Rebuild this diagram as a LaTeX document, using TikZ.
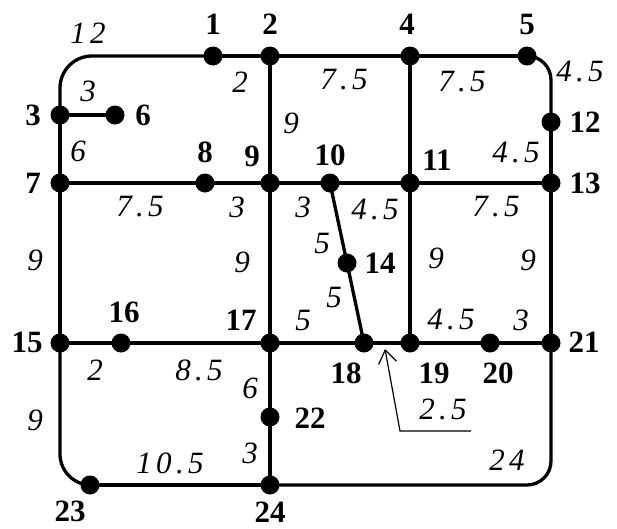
\documentclass[tikz,border=0pt]{standalone}
\usepackage{fontspec}
\setmainfont{Liberation Serif}
\newfontfamily\wfont{Liberation Serif}[LetterSpace=14]
\usetikzlibrary{arrows.meta,backgrounds}
\begin{document}
\begin{tikzpicture}[x=1pt,y=-1pt,
  dot/.style={circle,fill=black,inner sep=0pt,minimum size=19pt},
  lab/.style={font=\fontsize{31}{31}\selectfont\bfseries,inner sep=0pt},
  wt/.style={font=\fontsize{31}{31}\selectfont\wfont\itshape,inner sep=0pt},
  road/.style={line width=3.3pt},
  thin/.style={line width=1.2pt}]
\useasboundingbox (0,0) rectangle (617,528);
% vertices
\node[dot] (n1) at (213,56) {};
\node[dot] (n2) at (270,56) {};
\node[dot] (n4) at (410,56) {};
\node[dot] (n5) at (527,56) {};
\node[dot] (n12) at (551,122) {};
\node[dot] (n3) at (60,115) {};
\node[dot] (n6) at (115,115) {};
\node[dot] (n7) at (60,183) {};
\node[dot] (n8) at (205,183) {};
\node[dot] (n9) at (270,183) {};
\node[dot] (n10) at (330,183) {};
\node[dot] (n11) at (410,183) {};
\node[dot] (n13) at (551,183) {};
\node[dot] (n14) at (347,263) {};
\node[dot] (n15) at (60,343) {};
\node[dot] (n16) at (121,343) {};
\node[dot] (n17) at (270,343) {};
\node[dot] (n18) at (364,343) {};
\node[dot] (n19) at (410,343) {};
\node[dot] (n20) at (490,343) {};
\node[dot] (n21) at (551,343) {};
\node[dot] (n22) at (270,417) {};
\node[dot] (n23) at (90,485) {};
\node[dot] (n24) at (270,485) {};
\coordinate (a0) at (471,431);
\coordinate (a1) at (400,431);
\coordinate (a2) at (385,349);
% roads
\begin{scope}[on background layer]
\draw[road,rounded corners=32pt] (n3.center) |- (n1.center);
\draw[road] (n1.center) -- (n2.center) -- (n4.center) -- (n5.center);
\draw[road,rounded corners=24pt] (n5.center) -| (n12.center);
\draw[road] (n12.center) -- (n13.center) -- (n21.center);
\draw[road] (n3.center) -- (n6.center);
\draw[road] (n3.center) -- (n7.center) -- (n15.center);
\draw[road,rounded corners=31pt] (n15.center) |- (n23.center);
\draw[road] (n23.center) -- (n24.center);
\draw[road,rounded corners=24pt] (n24.center) -| (n21.center);
\draw[road] (n7.center) -- (n8.center) -- (n9.center) -- (n10.center) -- (n11.center) -- (n13.center);
\draw[road] (n15.center) -- (n16.center) -- (n17.center) -- (n18.center) -- (n19.center) -- (n20.center) -- (n21.center);
\draw[road] (n2.center) -- (n9.center) -- (n17.center) -- (n22.center) -- (n24.center);
\draw[road] (n4.center) -- (n11.center) -- (n19.center);
\draw[road] (n10.center) -- (n14.center) -- (n18.center);
\end{scope}
\draw[thin,-{Straight Barb[length=13pt,width=18pt]}] (a0) -- (a1) -- (a2);
% vertex labels
\node[lab] (l1) at (213,24) {1};
\node[lab] (l2) at (270,24) {2};
\node[lab] (l4) at (407,24) {4};
\node[lab] (l5) at (527,24) {5};
\node[lab] (l3) at (33,115) {3};
\node[lab] (l6) at (143,115) {6};
\node[lab] (l12) at (585,122) {12};
\node[lab] (l7) at (33,183) {7};
\node[lab] (l8) at (205,152) {8};
\node[lab] (l9) at (252,156) {9};
\node[lab] (l10) at (330,155) {10};
\node[lab] (l11) at (437,160) {11};
\node[lab] (l13) at (585,183) {13};
\node[lab] (l14) at (380,263) {14};
\node[lab] (l15) at (27,342) {15};
\node[lab] (l16) at (124,312) {16};
\node[lab] (l17) at (241,320) {17};
\node[lab] (l18) at (346,373) {18};
\node[lab] (l19) at (434,373) {19};
\node[lab] (l20) at (498,373) {20};
\node[lab] (l21) at (584,342) {21};
\node[lab] (l22) at (310,418) {22};
\node[lab] (l23) at (70,511) {23};
\node[lab] (l24) at (270,512) {24};
% weights
\node[wt] (w1) at (88,33) {12};
\node[wt] (w2) at (240,82) {2};
\node[wt] (w3) at (344,80) {7.5};
\node[wt] (w4) at (462,82) {7.5};
\node[wt] (w5) at (580,72) {4.5};
\node[wt] (w6) at (88,91) {3};
\node[wt] (w7) at (291,123) {9};
\node[wt] (w8) at (78,151) {6};
\node[wt] (w9) at (516,153) {4.5};
\node[wt] (w10) at (140,207) {7.5};
\node[wt] (w11) at (237,207) {3};
\node[wt] (w12) at (303,207) {3};
\node[wt] (w13) at (375,210) {4.5};
\node[wt] (w14) at (496,207) {7.5};
\node[wt] (w15) at (322,243) {5};
\node[wt] (w16) at (35,260) {9};
\node[wt] (w17) at (242,262) {9};
\node[wt] (w18) at (436,258) {9};
\node[wt] (w19) at (528,260) {9};
\node[wt] (w20) at (334,297) {5};
\node[wt] (w21) at (303,320) {5};
\node[wt] (w22) at (451,320) {4.5};
\node[wt] (w23) at (521,320) {3};
\node[wt] (w24) at (95,370) {2};
\node[wt] (w25) at (199,370) {8.5};
\node[wt] (w26) at (250,388) {6};
\node[wt] (w27) at (35,420) {9};
\node[wt] (w28) at (250,453) {3};
\node[wt] (w29) at (170,463) {10.5};
\node[wt] (w30) at (443,409) {2.5};
\node[wt] (w31) at (507,460) {24};
\end{tikzpicture}
\end{document}
